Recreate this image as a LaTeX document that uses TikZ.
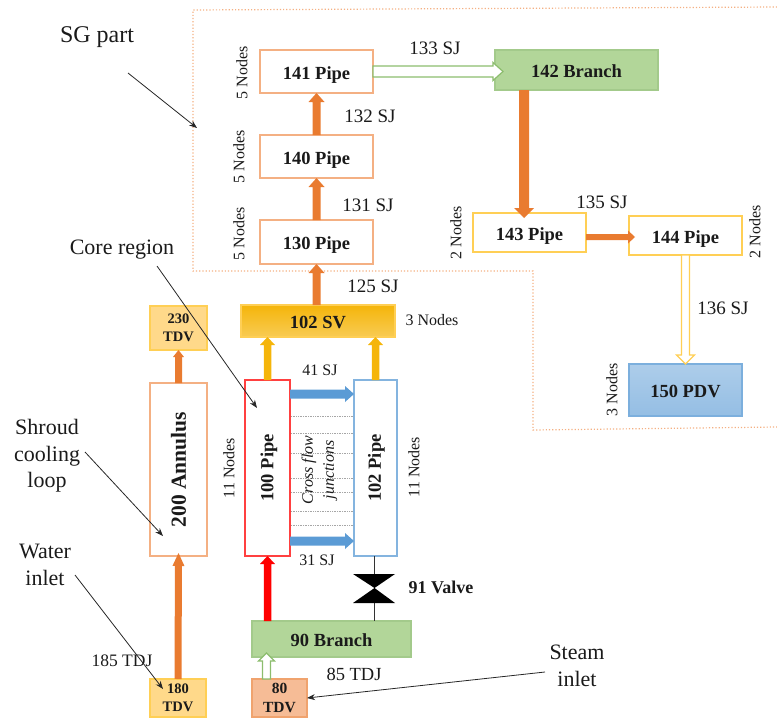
\documentclass[tikz,border=0pt]{standalone}
\usepackage{fontspec}
\setmainfont{Liberation Serif}
\usetikzlibrary{arrows.meta,calc}
\definecolor{orng}{HTML}{E97B30}
\definecolor{orngl}{HTML}{F4B083}
\definecolor{gold}{HTML}{F5B50A}
\definecolor{goldl}{HTML}{FFCF55}
\definecolor{tdvf}{HTML}{FFD98A}
\definecolor{grn}{HTML}{A9D18E}
\definecolor{grnd}{HTML}{8CBD6E}
\definecolor{blu}{HTML}{5B9BD5}
\definecolor{txt}{HTML}{1A1A1A}
\tikzset{
  box/.style={draw, line width=1.2pt, inner sep=0pt, outer sep=0pt, text=txt, font=\fontsize{18.5}{20}\selectfont\bfseries},
  hbox/.style={text height=15pt, text depth=0pt},
  pipebox/.style={box, draw=orngl, fill=white},
  yelbox/.style={box, hbox, draw=goldl, fill=white},
  grnbox/.style={box, hbox, draw=grnd!80, fill=grn!90},
  tdvbox/.style={box, align=center, draw=goldl, fill=tdvf, font=\fontsize{14.5}{18}\selectfont\bfseries},
  lab/.style={text=txt, inner sep=0pt, font=\fontsize{19}{20}\selectfont},
  nod/.style={text=txt, inner sep=0pt, font=\fontsize{16}{17}\selectfont},
  note/.style={text=txt, inner sep=0pt, align=center, font=\fontsize{22}{26.5}\selectfont},
  blockarrow/.style n args={3}{to path={
    ($(\tikztostart)!#1/2!90:(\tikztotarget)$)
    -- ($($(\tikztotarget)!#3!(\tikztostart)$)!#1/2!90:(\tikztotarget)$)
    -- ($($(\tikztotarget)!#3!(\tikztostart)$)!#2/2!90:(\tikztotarget)$)
    -- (\tikztotarget)
    -- ($($(\tikztotarget)!#3!(\tikztostart)$)!#2/2!-90:(\tikztotarget)$)
    -- ($($(\tikztotarget)!#3!(\tikztostart)$)!#1/2!-90:(\tikztotarget)$)
    -- ($(\tikztostart)!#1/2!-90:(\tikztotarget)$)
    -- cycle}},
  solidflow/.style={fill=#1, draw=none},
  hollowflow/.style={fill=white, draw=#1, line width=1.2pt},
  pointer/.style={draw=black!85, line width=0.8pt, -{Stealth[length=8pt,width=6pt]}},
  bound/.style={draw=orngl, line width=1.2pt, dotted},
  cross/.style={draw=black!35, line width=0.7pt, densely dotted},
}
\begin{document}
\begin{tikzpicture}[x=1pt,y=-1pt]
\useasboundingbox (0,0) rectangle (777,720);
% boundary
\coordinate (b1) at (777,7);
\coordinate (b2) at (193,10);
\coordinate (b3) at (193,271);
\coordinate (b4) at (533,271);
\coordinate (b5) at (533,430);
\coordinate (b6) at (777,427);
\draw[bound] (b1) -- (b2) -- (b3) -- (b4) -- (b5) -- (b6);
% boxes
\node[pipebox, hbox, minimum width=113pt, minimum height=43pt] (p141) at (316.5,71.5) {141 Pipe};
\node[pipebox, hbox, minimum width=113pt, minimum height=43pt] (p140) at (316.5,156.5) {140 Pipe};
\node[pipebox, hbox, minimum width=113pt, minimum height=44pt] (p130) at (316.5,242) {130 Pipe};
\node[grnbox, minimum width=163pt, minimum height=40pt] (b142) at (576.5,70) {142 Branch};
\node[yelbox, minimum width=113pt, minimum height=39pt] (p143) at (529.5,232.5) {143 Pipe};
\node[yelbox, minimum width=113pt, minimum height=39pt] (p144) at (685.5,235.5) {144 Pipe};
\node[box, hbox, draw=blu!80, top color=blu!50, bottom color=blu!65, minimum width=113pt, minimum height=52pt] (p150) at (685.5,390) {150 PDV};
\node[box, hbox, draw=goldl, top color=gold, bottom color=gold!70!white, minimum width=154pt, minimum height=32pt] (sv) at (318,321) {102 SV};
\node[tdvbox, minimum width=57pt, minimum height=44pt] (t230) at (178.5,328) {230\\TDV};
\node[pipebox, minimum width=57pt, minimum height=173pt] (an) at (178.5,469.5) {\rotatebox{90}{\fontsize{21.5}{24}\selectfont 200 Annulus}};
\node[box, draw=red!75, fill=white, minimum width=45pt, minimum height=176pt] (p100) at (267.5,468) {\hspace*{3pt}\rotatebox{90}{100 Pipe}};
\node[box, draw=blu!75, fill=white, minimum width=43pt, minimum height=176pt] (p102) at (375.5,468) {\hspace*{2pt}\rotatebox{90}{102 Pipe}};
\node[grnbox, minimum width=159pt, minimum height=36pt] (b90) at (331.5,639) {90 Branch};
\node[box, align=center, draw=orng!70, fill=orngl!85, minimum width=55pt, minimum height=38pt, font=\fontsize{15.5}{19}\selectfont\bfseries] (t80) at (279.5,698) {80\\TDV};
\node[tdvbox, minimum width=56pt, minimum height=38pt] (t180) at (178,698) {180\\TDV};
% cross flow lines
\foreach \yy in {416,433,453,478,492,511,525}{
  \draw[cross] ($(p100.east|-0,\yy)+(1,0)$) -- ($(p102.west|-0,\yy)+(-1,0)$);
}
% valve
\coordinate (vc) at (374.5,588);
\draw[black!80, line width=1pt] (p102.south-|vc) -- (b90.north-|vc);
\fill[black] (353,574) -- (395,574) -- (vc) -- (395,603) -- (353,603) -- (vc) -- cycle;
% flow arrows
\path[solidflow=orng] (p130.north) to[blockarrow={8pt}{16pt}{9pt}] (p140.south);
\path[solidflow=orng] (p140.north) to[blockarrow={8pt}{16pt}{9pt}] (p141.south);
\path[solidflow=orng] (sv.north-|p130) to[blockarrow={8pt}{16pt}{9pt}] (p130.south);
\path[hollowflow=grnd] (p141.east) to[blockarrow={11pt}{18pt}{10pt}] ([xshift=8pt]b142.west|-p141.east);
\path[solidflow=orng] ([xshift=-52.5pt]b142.south) to[blockarrow={10pt}{20pt}{10pt}] ([xshift=-5.5pt,yshift=-5pt]p143.north);
\path[solidflow=orng] ([yshift=-4.5pt]p143.east) to[blockarrow={6pt}{13pt}{7pt}] ([xshift=6pt,yshift=-1.5pt]p144.west);
\path[hollowflow=goldl] (p144.south) to[blockarrow={8pt}{18pt}{9pt}] (p150.north);
\path[solidflow=orng] (an.north) to[blockarrow={7pt}{11pt}{7pt}] (t230.south);
\path[solidflow=orng] (t180.north) to[blockarrow={7pt}{12pt}{13pt}] ([yshift=3pt]an.south);
\path[solidflow=gold] (p100.north) to[blockarrow={7.5pt}{15pt}{8pt}] (sv.south-|p100);
\path[solidflow=gold] (p102.north) to[blockarrow={7.5pt}{15pt}{8pt}] (sv.south-|p102);
\path[solidflow=blu] ([yshift=74pt]p100.east) to[blockarrow={9pt}{16pt}{9pt}] ([yshift=74pt]p102.west);
\path[solidflow=blu] ([yshift=-73pt]p100.east) to[blockarrow={9pt}{16pt}{9pt}] ([yshift=-73pt]p102.west);
\path[solidflow=red] (b90.north-|p100) to[blockarrow={7.5pt}{15pt}{8pt}] (p100.south);
\path[hollowflow=grnd] ([xshift=-13pt]t80.north) to[blockarrow={8pt}{16pt}{8pt}] ([xshift=-13pt,yshift=4pt]t80.north|-b90.south);
% connector labels
\node[lab] (l133) at (435,48) {133 SJ};
\node[lab] (l132) at (370,116) {132 SJ};
\node[lab] (l131) at (368,205) {131 SJ};
\node[lab] (l125) at (373,286) {125 SJ};
\node[lab] (l135) at (602,202) {135 SJ};
\node[lab] (l136) at (723,308) {136 SJ};
\node[nod] (l41) at (320,370) {41 SJ};
\node[nod] (l31) at (317,560) {31 SJ};
\node[lab,font=\fontsize{18.5}{20}\selectfont] (l85) at (354,674) {85 TDJ};
\node[lab,font=\fontsize{17.5}{20}\selectfont] (l185) at (122,661) {185 TDJ};
\node[lab,font=\fontsize{18}{20}\selectfont\bfseries] (l91) at (441,587) {91 Valve};
% node counts
\node[nod, rotate=90] (n141) at (242,73) {5 Nodes};
\node[nod, rotate=90] (n140) at (239,157) {5 Nodes};
\node[nod, rotate=90] (n130) at (239,234) {5 Nodes};
\node[nod, rotate=90] (n143) at (456,233) {2 Nodes};
\node[nod, rotate=90] (n144) at (755,232) {2 Nodes};
\node[nod, rotate=90] (n150) at (612,390) {3 Nodes};
\node[nod] (nsv) at (432,320) {3 Nodes};
\node[nod, rotate=90] (n100) at (229,468) {11 Nodes};
\node[nod, rotate=90] (n102) at (414,467) {11 Nodes};
\node[nod, rotate=90, align=center, font=\fontsize{16}{21}\selectfont\itshape] (cf) at (319.5,470) {Cross flow\\junctions};
% annotations
\node[note, font=\fontsize{24}{27}\selectfont] (sg) at (97,37) {SG part};
\node[note] (core) at (122,250) {Core region};
\node[note] (shroud) at (47,456) {Shroud\\cooling\\loop};
\node[note] (water) at (45,565) {Water\\inlet};
\node[note] (steam) at (577,666) {Steam\\inlet};
\coordinate (sg0) at (128,73);
\coordinate (sg1) at (197,128);
\coordinate (co0) at (157,266);
\coordinate (co1) at (257,408);
\coordinate (sh0) at (85,452);
\coordinate (sh1) at (163,536);
\coordinate (wa0) at (75,575);
\coordinate (wa1) at (163,689);
\coordinate (st0) at (545,672);
\draw[pointer] (sg0) -- (sg1);
\draw[pointer] (co0) -- (co1);
\draw[pointer] (sh0) -- (sh1);
\draw[pointer] (wa0) -- (wa1);
\draw[pointer] (st0) -- (t80.east);
\end{tikzpicture}
\end{document}
